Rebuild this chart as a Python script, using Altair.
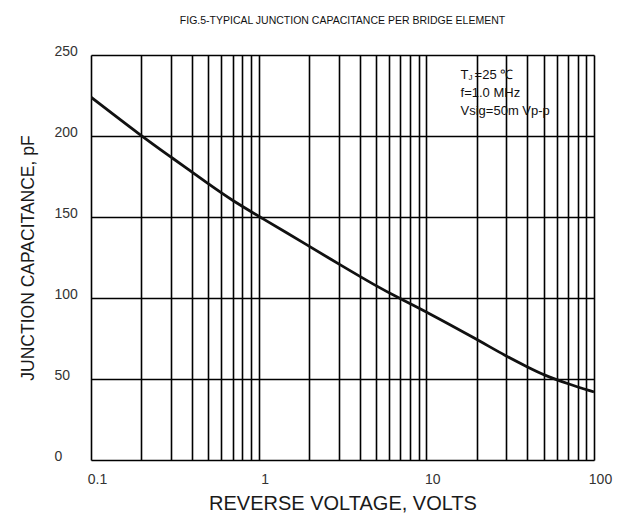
import altair as alt
import pandas as pd

# Curve values
voltage = [0.1, 0.2, 0.3, 0.5, 0.7, 1, 2, 3, 5, 7, 10, 20, 30, 40, 50, 70, 100]
capacitance = [224, 200, 187, 170.5, 160, 150.5, 132, 121, 107.5, 99.5, 91.5, 74.5, 64, 57.5, 52.5, 47, 42]

grid_x = [0.1, 0.2, 0.3, 0.4, 0.5, 0.6, 0.7, 0.8, 0.9,
          1, 2, 3, 4, 5, 6, 7, 8, 9,
          10, 20, 30, 40, 50, 60, 70, 80, 90, 100]
grid_y = [0, 50, 100, 150, 200, 250]

# Annotation block (top right)
note_x = 16
line1_lead = ["T"]
line1_sub = ["J"]
line1_rest = ["=25 \u2103"]
other_lines = ["f=1.0 MHz", "Vsig=50m Vp-p"]
line1_y = [237.5]
other_y = [226.5, 215.5]

title = "FIG.5-TYPICAL JUNCTION CAPACITANCE PER BRIDGE ELEMENT"

df = pd.DataFrame({"v": voltage, "c": capacitance})

FONT = "Liberation Sans"
TXT = "#1a1a1a"

xscale = alt.Scale(type="log", domain=[0.1, 100], nice=False)
yscale = alt.Scale(domain=[0, 250], nice=False)

xaxis = alt.Axis(
    title="REVERSE VOLTAGE, VOLTS",
    values=grid_x,
    format="~g",
    labelExpr="abs(log(datum.value)/LN10 - round(log(datum.value)/LN10)) < 0.001 ? datum.label : ''",
    grid=True, gridColor="#000", gridWidth=1.6, gridOpacity=1,
    ticks=False, tickSize=0, domain=False,
    labelFont=FONT, labelFontSize=14, labelColor="#333", labelOffset=6, labelPadding=12,
    labelFlush=False, labelOverlap=False,
    titleFont=FONT, titleFontSize=20, titleFontWeight="normal", titleColor=TXT, titlePadding=7,
)
yaxis = alt.Axis(
    title="JUNCTION CAPACITANCE, pF",
    values=grid_y,
    grid=True, gridColor="#000", gridWidth=1.6, gridOpacity=1,
    ticks=False, tickSize=0, domain=False,
    labelFont=FONT, labelFontSize=14, labelColor="#333", labelPadding=37,
    labelAlign="left", labelBaseline="middle", labelOffset=-4,
    titleFont=FONT, titleFontSize=17.5, titleFontWeight="normal", titleColor=TXT,
    titleX=-63, titleBaseline="middle",
)

curve = alt.Chart(df).mark_line(color="#111", strokeWidth=2.8, interpolate="basis", clip=True).encode(
    x=alt.X("v:Q", scale=xscale, axis=xaxis),
    y=alt.Y("c:Q", scale=yscale, axis=yaxis),
)


def note(texts, ys, size=13, dx=0):
    d = pd.DataFrame({"t": texts, "x": [note_x] * len(texts), "y": ys})
    return alt.Chart(d).mark_text(
        align="left", baseline="middle", font=FONT, fontSize=size, color="#111", dx=dx
    ).encode(
        x=alt.X("x:Q", scale=xscale),
        y=alt.Y("y:Q", scale=yscale),
        text="t:N",
    )


t_lead = note(line1_lead, line1_y)
t_sub = note(line1_sub, [line1_y[0] - 1.5], size=8, dx=8)
t_rest = note(line1_rest, line1_y, dx=14)
t_other = note(other_lines, other_y)

chart = alt.layer(curve, t_lead, t_sub, t_rest, t_other).properties(
    width=503,
    height=405,
    padding={"left": 83, "top": 47, "right": 24, "bottom": 55},
    autosize=alt.AutoSizeParams(type="none"),
    title=alt.TitleParams(title, font=FONT, fontSize=10.5, fontWeight="normal", color="#111",
                          anchor="middle", offset=18),
).configure_view(stroke="#000", strokeWidth=2).configure(background="white")

chart.save("out.html", embed_options={"renderer": "svg", "actions": False})
